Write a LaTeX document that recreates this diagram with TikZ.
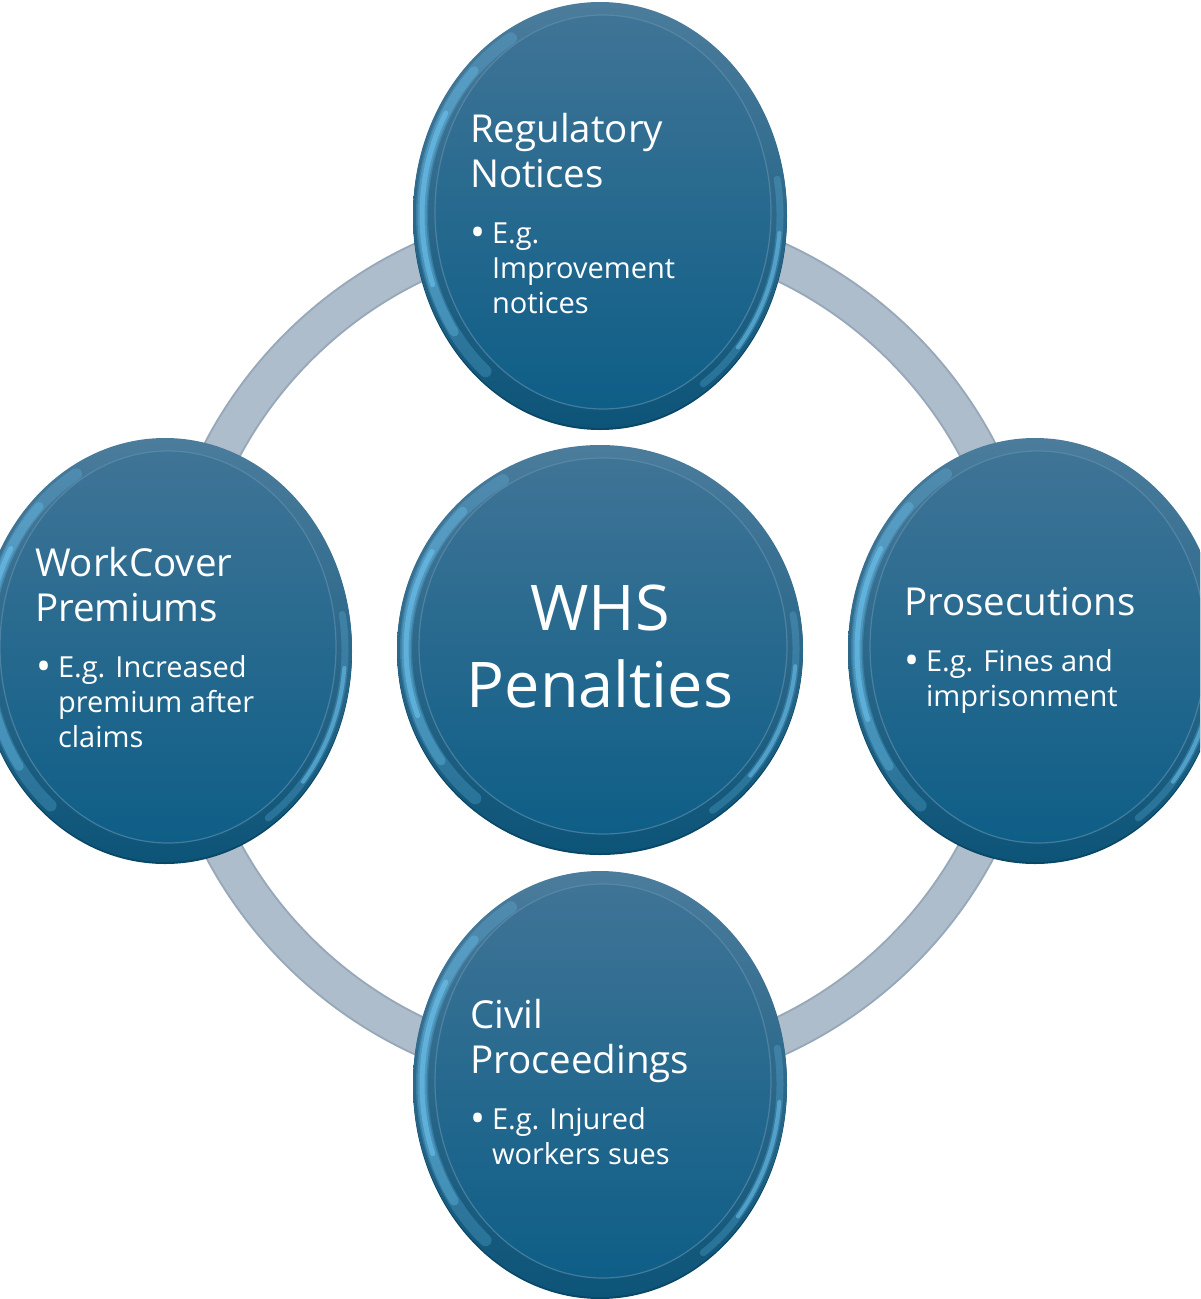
\documentclass[tikz,border=0pt]{standalone}
\usepackage{fontspec}
\setmainfont{Open Sans}
\usetikzlibrary{calc}
\definecolor{ringc}{HTML}{AEBDCB}
\definecolor{ringedge}{HTML}{97A8B9}
\definecolor{rimtop}{HTML}{4B7C9C}
\definecolor{rimbot}{HTML}{0C5478}
\definecolor{disctop}{HTML}{3F7496}
\definecolor{discmid}{HTML}{186790}
\definecolor{discbot}{HTML}{0E5E87}
\definecolor{hilite}{HTML}{6CC2EE}
\definecolor{edgeline}{HTML}{0A4767}
\definecolor{discline}{HTML}{6592B0}
\newcommand\ttlfnt{\fontsize{38.5}{45}\selectfont}
\newcommand\bltfnt{\fontsize{29}{35}\selectfont}
\newcommand\ctrfnt{\fontsize{63}{77}\selectfont}
\newcommand\bul{\makebox[19pt][l]{\hspace{5pt}\makebox[0pt][c]{\raisebox{-3pt}{\fontsize{40}{35}\selectfont\textbullet}}}}
\tikzset{
  titletext/.style={anchor=base west, inner sep=0pt, outer sep=0pt, text=white, font=\ttlfnt},
  bullettext/.style={anchor=base west, inner sep=0pt, outer sep=0pt, text=white, font=\bltfnt},
  centertext/.style={anchor=base, inner sep=0pt, outer sep=0pt, text=white, font=\ctrfnt},
  ringline/.style={ringc, line width=35pt},
  ringborder/.style={ringedge, line width=39pt},
  hl/.style={hilite, line cap=round},
}
% #1,#2 centre, #3,#4 radii
\newcommand\drawbtn[4]{%
  \begin{scope}[shift={(#1,#2)}]
    \pgfmathsetmacro\rxa{#3-9}\pgfmathsetmacro\rya{#4-9}%
    \pgfmathsetmacro\rxb{#3-7}\pgfmathsetmacro\ryb{#4-7}%
    \pgfmathsetmacro\rxi{#3-19}\pgfmathsetmacro\ryi{#4-16}%
    \fill[edgeline] (0,2) ellipse [x radius=#3, y radius=#4];
    \shade[top color=rimtop, bottom color=rimbot] (0,0) ellipse [x radius=#3, y radius=#4];
    \draw[hl, line width=12pt, opacity=.25] ({\rxa*cos(130)},{\rya*sin(130)}) arc [start angle=130, end angle=240, x radius=\rxa, y radius=\rya];
    \draw[hl, line width=9pt, opacity=.35] ({\rxa*cos(145)},{\rya*sin(145)}) arc [start angle=145, end angle=225, x radius=\rxa, y radius=\rya];
    \draw[hl, line width=5pt, opacity=.6] ({\rxa*cos(160)},{\rya*sin(160)}) arc [start angle=160, end angle=210, x radius=\rxa, y radius=\rya];
    \draw[hl, line width=7pt, opacity=.25] ({\rxb*cos(-10)},{\ryb*sin(-10)}) arc [start angle=-10, end angle=55, x radius=\rxb, y radius=\ryb];
    \draw[hl, line width=4pt, opacity=.55] ({\rxb*cos(5)},{\ryb*sin(5)}) arc [start angle=5, end angle=40, x radius=\rxb, y radius=\ryb];
    \shade[top color=disctop, middle color=discmid, bottom color=discbot] (3,-3) ellipse [x radius=\rxi, y radius=\ryi];
    \draw[discline, line width=1.2pt, opacity=.6] (3,-3) ellipse [x radius=\rxi, y radius=\ryi];
  \end{scope}}
\begin{document}
\begin{tikzpicture}[x=1pt,y=-1pt]
\useasboundingbox (0,0) rectangle (1200,1299);
\clip (0,0) rectangle (1200,1299);
\fill[white] (0,0) rectangle (1200,1299);
% ring
\draw[ringborder] (600,649) circle [radius=427];
\draw[ringline] (600,649) circle [radius=427];
% buttons
\drawbtn{600}{215}{187}{213}
\drawbtn{165}{650}{187}{212}
\drawbtn{1035}{650}{187}{212}
\drawbtn{600}{1084}{187}{213}
\drawbtn{600}{649}{203}{204}
% texts
\node[titletext] (regT) at (470,142) {\begin{tabular}[t]{@{}l@{}}Regulatory\\Notices\end{tabular}};
\node[bullettext] (regB) at (473,243) {\begin{tabular}[t]{@{}l@{}l@{}}\bul&E.g.\\&Improvement\\&notices\end{tabular}};
\node[titletext] (wcT) at (35,576) {\begin{tabular}[t]{@{}l@{}}WorkCover\\Premiums\end{tabular}};
\node[bullettext] (wcB) at (39,677) {\begin{tabular}[t]{@{}l@{}l@{}}\bul&E.g. Increased\\&premium after\\&claims\end{tabular}};
\node[titletext] (proT) at (904,615) {Prosecutions};
\node[bullettext] (proB) at (907,671) {\begin{tabular}[t]{@{}l@{}l@{}}\bul&E.g. Fines and\\&imprisonment\end{tabular}};
\node[titletext] (civT) at (470,1028) {\begin{tabular}[t]{@{}l@{}}Civil\\Proceedings\end{tabular}};
\node[bullettext] (civB) at (473,1129) {\begin{tabular}[t]{@{}l@{}l@{}}\bul&E.g. Injured\\&workers sues\end{tabular}};
\node[centertext] (whs) at (600,630) {\begin{tabular}[t]{@{}c@{}}WHS\\Penalties\end{tabular}};
\end{tikzpicture}
\end{document}
